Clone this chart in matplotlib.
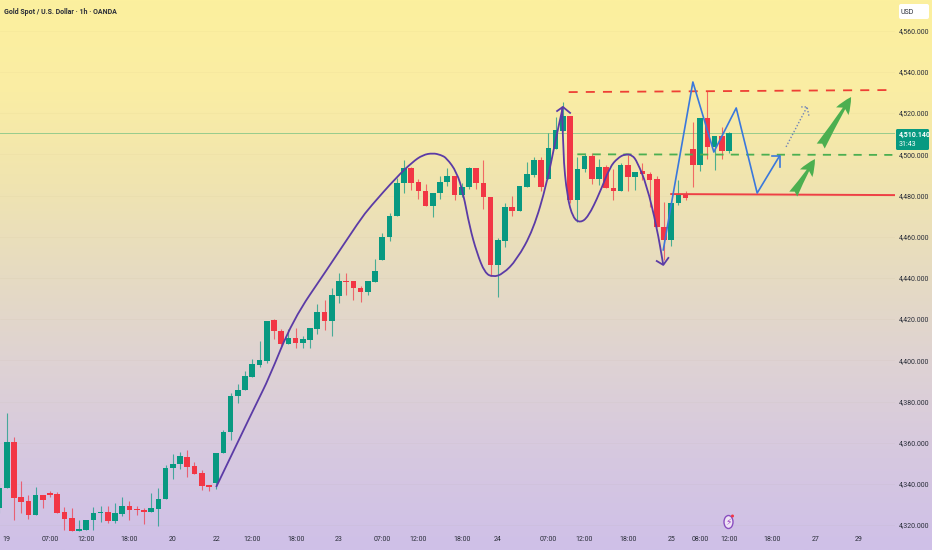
"""Gold spot 1h candlestick chart with hand drawn trade annotations."""

import matplotlib

matplotlib.use("Agg")

import matplotlib.pyplot as plt
import numpy as np
from matplotlib.colors import LinearSegmentedColormap
from matplotlib.patches import Ellipse, FancyArrowPatch, FancyBboxPatch, PathPatch
from matplotlib.path import Path

# candles, first one is cut off by the left edge (bar -1)
opens = [
    4328.3, 4338.0, 4360.4, 4333.7, 4331.7, 4324.9, 4334.6, 4335.6, 4335.1, 4326.4,
    4323.5, 4317.1, 4317.6, 4322.5, 4325.9, 4326.4, 4322.0, 4325.4, 4329.3, 4327.8,
    4327.3, 4326.4, 4327.8, 4332.7, 4347.7, 4349.7, 4353.1, 4348.7, 4345.3, 4339.5,
    4340.5, 4355.0, 4365.2, 4382.7, 4385.6, 4391.9, 4397.7, 4399.7, 4419.6, 4414.2,
    4407.9, 4410.8, 4408.4, 4409.9, 4415.2, 4423.5, 4419.1, 4431.2, 4438.5, 4438.5,
    4435.1, 4433.2, 4438.0, 4448.7, 4459.9, 4470.1, 4486.1, 4493.4, 4486.6, 4482.2,
    4474.9, 4481.2, 4486.6, 4489.5, 4480.2, 4484.1, 4493.4, 4486.1, 4479.3, 4446.3,
    4457.9, 4474.4, 4472.5, 4484.1, 4490.0, 4497.2, 4488.0, 4502.6, 4511.3, 4518.6,
    4477.8, 4492.9, 4499.2, 4488.0, 4493.8, 4483.6, 4482.2, 4494.8, 4489.0, 4491.9,
    4490.4, 4488.0, 4464.7, 4458.4, 4476.4, 4480.7, 4502.6, 4494.8, 4517.6, 4503.6,
    4508.9, 4501.6,
]
highs = [
    4340.0, 4374.4, 4362.8, 4341.4, 4334.6, 4338.5, 4334.6, 4336.6, 4336.1, 4328.8,
    4328.3, 4322.5, 4320.0, 4328.8, 4329.3, 4329.3, 4330.7, 4333.7, 4331.7, 4329.3,
    4328.3, 4335.6, 4338.0, 4349.2, 4354.5, 4355.5, 4356.5, 4350.6, 4346.8, 4339.5,
    4355.0, 4366.2, 4384.1, 4388.5, 4394.8, 4400.6, 4409.4, 4419.1, 4420.1, 4415.2,
    4415.2, 4415.7, 4411.8, 4415.7, 4427.3, 4429.3, 4435.1, 4442.4, 4442.4, 4438.5,
    4436.1, 4438.5, 4449.2, 4461.8, 4471.5, 4488.5, 4497.2, 4493.8, 4488.0, 4485.6,
    4481.2, 4489.5, 4493.4, 4489.5, 4486.1, 4493.8, 4493.4, 4497.2, 4479.3, 4459.4,
    4476.4, 4479.8, 4484.6, 4496.3, 4498.7, 4498.7, 4510.3, 4518.1, 4525.4, 4518.6,
    4498.7, 4500.6, 4500.6, 4497.7, 4494.8, 4492.9, 4495.8, 4499.7, 4491.4, 4495.8,
    4491.4, 4489.5, 4476.9, 4476.4, 4487.5, 4482.2, 4515.7, 4517.6, 4530.7, 4508.9,
    4513.2, 4510.6,
]
lows = [
    4326.0, 4338.0, 4322.5, 4325.9, 4323.0, 4324.9, 4328.3, 4333.7, 4325.9, 4317.6,
    4317.1, 4317.1, 4317.6, 4317.6, 4321.5, 4321.0, 4321.0, 4324.4, 4322.5, 4324.9,
    4320.6, 4326.4, 4319.6, 4332.7, 4342.4, 4347.2, 4343.4, 4344.8, 4337.0, 4336.6,
    4337.5, 4355.0, 4361.3, 4379.3, 4385.6, 4391.9, 4396.8, 4398.7, 4410.4, 4406.0,
    4407.9, 4406.0, 4406.0, 4406.0, 4412.8, 4414.7, 4411.8, 4427.8, 4431.7, 4429.3,
    4428.3, 4431.7, 4438.0, 4448.7, 4457.9, 4470.1, 4481.2, 4482.7, 4478.3, 4474.9,
    4469.6, 4478.3, 4484.6, 4477.8, 4479.3, 4483.2, 4483.2, 4473.4, 4440.9, 4430.7,
    4455.0, 4470.1, 4472.5, 4484.1, 4489.0, 4482.2, 4488.0, 4502.6, 4511.3, 4476.4,
    4467.1, 4491.4, 4485.6, 4485.1, 4483.6, 4477.8, 4482.2, 4482.2, 4482.7, 4487.5,
    4474.4, 4464.7, 4448.7, 4455.5, 4475.4, 4477.8, 4484.1, 4491.9, 4497.7, 4492.4,
    4497.7, 4500.6,
]
closes = [
    4338.0, 4360.4, 4333.2, 4331.2, 4324.9, 4334.6, 4332.2, 4334.6, 4325.9, 4323.0,
    4317.1, 4318.1, 4322.5, 4325.9, 4326.4, 4322.0, 4325.9, 4329.3, 4327.3, 4327.3,
    4326.4, 4328.3, 4332.7, 4347.7, 4349.7, 4353.6, 4348.2, 4344.8, 4339.0, 4338.5,
    4355.0, 4365.2, 4382.7, 4385.6, 4392.4, 4398.2, 4400.2, 4419.1, 4414.2, 4407.9,
    4410.8, 4408.4, 4410.4, 4415.7, 4423.5, 4419.1, 4431.7, 4438.5, 4438.0, 4435.1,
    4433.2, 4438.5, 4443.4, 4459.9, 4470.1, 4486.1, 4493.4, 4486.1, 4482.2, 4474.9,
    4481.2, 4486.6, 4489.5, 4480.2, 4484.1, 4493.4, 4486.1, 4479.3, 4446.3, 4458.4,
    4474.4, 4472.5, 4484.6, 4490.4, 4497.2, 4484.1, 4503.1, 4511.8, 4518.6, 4477.8,
    4492.9, 4499.2, 4488.0, 4493.8, 4483.6, 4482.2, 4494.8, 4489.0, 4491.4, 4490.4,
    4487.5, 4464.7, 4458.4, 4476.4, 4480.7, 4478.8, 4494.8, 4517.6, 4503.6, 4508.9,
    4501.6, 4510.14,
]

time_ticks = [0, 6, 11, 17, 23, 29, 34, 40, 46, 52, 57, 63, 68, 75, 80, 86, 92, 96, 100, 106, 112, 118]
time_labels = [
    "19", "07:00", "12:00", "18:00", "20", "22", "12:00", "18:00", "23", "07:00", "12:00",
    "18:00", "24", "07:00", "12:00", "18:00", "25", "08:00", "12:00", "18:00", "27", "29",
]
price_ticks = list(range(4320, 4561, 20))

# drawn annotations, (bar, price)
curve_up_x = [29.0, 34.8, 36.2, 39.6, 44.3, 48.9, 50.3, 54.0, 56.2, 57.6, 59.0, 60.1, 60.9,
              62.3, 63.2, 64.1, 65.1, 66.2, 67.3, 68.7, 70.6, 72.9, 74.8, 75.9, 77.0]
curve_up_y = [4338.5, 4380.8, 4390.5, 4419.6, 4443.8, 4468.1, 4474.4, 4489.0, 4496.3, 4499.7,
              4500.6, 4499.7, 4498.2, 4491.4, 4481.2, 4464.7, 4452.1, 4442.4, 4440.4, 4441.9,
              4448.7, 4463.3, 4486.1, 4505.5, 4523.0]
curve_up_head_x = [76.2, 77.0, 78.0]
curve_up_head_y = [4521.0, 4523.0, 4520.1]

curve_down_x = [76.9, 77.0, 77.6, 78.4, 79.4, 80.5, 82.1, 83.5, 84.6, 85.6, 86.6, 87.3, 88.6, 90.0, 90.9]
curve_down_y = [4523.0, 4500.6, 4479.3, 4469.1, 4466.7, 4469.6, 4481.2, 4493.8, 4498.2, 4500.1,
                4499.7, 4496.3, 4485.1, 4464.7, 4446.3]
curve_down_head_x = [90.0, 90.9, 91.6]
curve_down_head_y = [4448.2, 4446.3, 4449.7]

zigzag_x = [90.9, 95.0, 97.9, 101.0, 103.9, 107.0]
zigzag_y = [4453.6, 4535.1, 4501.1, 4522.5, 4481.2, 4499.2]
zigzag_head_x = [105.9, 107.0, 107.0]
zigzag_head_y = [4499.2, 4499.2, 4493.8]

dotted_x = [107.9, 110.8]
dotted_y = [4503.6, 4523.0]
dotted_head_x = [110.0, 110.8, 111.1]
dotted_head_y = [4523.0, 4523.0, 4518.1]

green_arrows = [((108.9, 4480.7), (111.9, 4497.7)), ((112.7, 4504.0), (116.9, 4527.8))]

BG_COLORS = ["#FCF09E", "#FAEDA4", "#F0E4B0", "#E6DBC2", "#DED2D4", "#D6C8E0", "#CFC0E8"]
UP = "#089981"
DOWN = "#F23645"
PURPLE = "#5B3BA6"
BLUE = "#3A78DC"
TEXT = "#2A2E39"
FONT = "Roboto"


def draw_background(fig):
    bg = fig.add_axes([0, 0, 1, 1], zorder=0)
    cmap = LinearSegmentedColormap.from_list("bg", BG_COLORS)
    bg.imshow(np.linspace(0, 1, 256).reshape(-1, 1), aspect="auto", cmap=cmap)
    bg.axis("off")


def draw_candles(ax):
    bars = np.arange(-1, len(opens) - 1)
    o, h, l, c = map(np.array, (opens, highs, lows, closes))
    colors = np.where(c >= o, UP, DOWN)
    ax.vlines(bars, l, h, colors=colors, linewidth=0.8, alpha=0.7, zorder=3)
    heights = np.abs(c - o)
    ax.bar(bars, np.maximum(heights, 0.6), bottom=np.minimum(o, c), width=0.78, color=colors, zorder=4)


def smooth_line(ax, xs, ys, **style):
    """Quadratic bezier with the read points as control points."""
    pts = np.column_stack([xs, ys])
    verts = [pts[0]]
    codes = [Path.MOVETO]
    for i in range(1, len(pts) - 1):
        verts += [pts[i], (pts[i] + pts[i + 1]) / 2]
        codes += [Path.CURVE3, Path.CURVE3]
    verts.append(pts[-1])
    codes.append(Path.LINETO)
    ax.add_patch(PathPatch(Path(verts, codes), fill=False, **style))


def draw_annotations(ax):
    ax.plot([77.8, 122.4], [4530.2, 4531.2], color="#EE4035", lw=1.3, dashes=(5, 4.5), zorder=5)
    ax.plot([79, 123], [4500.0, 4499.7], color="#4CAF50", lw=1.3, dashes=(4.5, 4), zorder=5)
    ax.plot([92, 123], [4480.7, 4480.2], color="#EE4045", lw=1.4, zorder=5)

    smooth_line(ax, curve_up_x, curve_up_y, ec=PURPLE, lw=1.3, zorder=6)
    smooth_line(ax, curve_down_x, curve_down_y, ec=PURPLE, lw=1.3, zorder=6)
    for xs, ys in [(curve_up_head_x, curve_up_head_y), (curve_down_head_x, curve_down_head_y)]:
        ax.plot(xs, ys, color=PURPLE, lw=1.3, zorder=6)

    for xs, ys in [(zigzag_x, zigzag_y), (zigzag_head_x, zigzag_head_y)]:
        ax.plot(xs, ys, color=BLUE, lw=1.2, zorder=6)

    for xs, ys in [(dotted_x, dotted_y), (dotted_head_x, dotted_head_y)]:
        ax.plot(xs, ys, color="#6F83B8", lw=1.0, dashes=(1, 1.4), zorder=6)

    for start, end in green_arrows:
        ax.add_patch(FancyArrowPatch(
            start, end,
            arrowstyle="fancy,head_length=8,head_width=7,tail_width=4.5",
            mutation_scale=1.5, color="#4CAF50", lw=0, shrinkA=0, shrinkB=0, zorder=7,
        ))


def draw_overlays(fig):
    ov = fig.add_axes([0, 0, 1, 1], zorder=5)
    ov.set_xlim(0, 932)
    ov.set_ylim(550, 0)
    ov.axis("off")

    ov.add_patch(FancyBboxPatch((899, 4), 30, 15, boxstyle="round,pad=0,rounding_size=2",
                                fc="white", ec="none"))
    ov.text(907, 12, "USD", fontsize=5, color=TEXT, va="center", ha="center", family=FONT)

    ov.add_patch(FancyBboxPatch((896, 129), 33, 21, boxstyle="round,pad=0,rounding_size=1.5",
                                fc=UP, ec="none"))
    ov.text(899, 134.5, "4,510.140", fontsize=5, color="white", va="center", fontweight="bold", family=FONT)
    ov.text(899, 144, "31:43", fontsize=5, color="white", va="center", family=FONT)

    ov.text(4, 11.5, "Gold Spot / U.S. Dollar · 1h · OANDA", fontsize=5, color=TEXT, va="center",
            family=FONT, fontweight="bold")

    ov.add_patch(Ellipse((728.5, 522), 9, 13, fc="#EFE4F5", ec="#8A4FC0", lw=1.0))
    ov.add_patch(Ellipse((732.5, 516), 3, 3, fc=DOWN, ec="none"))
    ov.text(728.5, 522, "\u26a1", fontsize=6.5, color="#9A3FC0", ha="center", va="center", family="DejaVu Sans")


def main():
    fig = plt.figure(figsize=(9.32, 5.5), dpi=100)
    draw_background(fig)

    ax = fig.add_axes([0, 1 - 534 / 550, 895 / 932, 534 / 550], zorder=1)
    ax.patch.set_alpha(0)
    ax.set_xlim((0 - 6.7) / 7.223, (895 - 6.7) / 7.223)
    ax.set_ylim(4574.9 - 0.4854 * 534, 4574.9)

    for spine in ax.spines.values():
        spine.set_visible(False)

    ax.set_xticks(time_ticks, time_labels)
    ax.yaxis.tick_right()
    ax.set_yticks(price_ticks, [f"{p:,}.000" for p in price_ticks])
    ax.tick_params(axis="both", length=0, labelsize=5, labelcolor=TEXT)
    ax.tick_params(axis="x", pad=1.5)
    ax.tick_params(axis="y", pad=3)
    for label in ax.get_xticklabels() + ax.get_yticklabels():
        label.set_family(FONT)

    for p in price_ticks:
        ax.axhline(p, color="#8A7A50", lw=0.5, alpha=0.05, zorder=1)
    ax.axhline(closes[-1], color="#6FBF80", lw=0.7, alpha=0.7, zorder=2)

    draw_candles(ax)
    draw_annotations(ax)
    draw_overlays(fig)

    fig.savefig("out.png", dpi=100)
    plt.close(fig)


if __name__ == "__main__":
    main()
